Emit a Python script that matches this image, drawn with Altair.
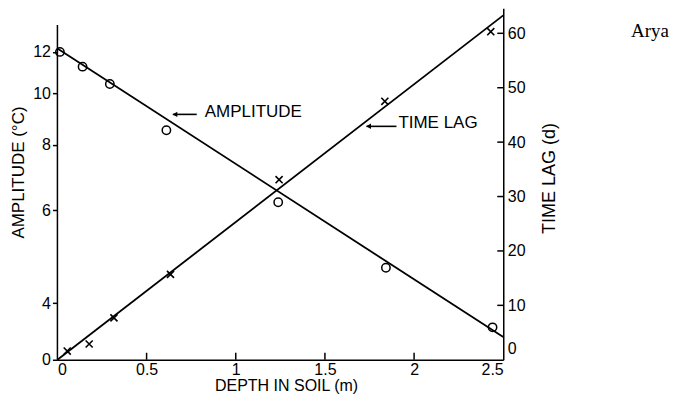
import altair as alt
import pandas as pd

# ---- data ----
amp_depth = [0.014, 0.141, 0.294, 0.611, 1.238, 1.842, 2.44]
amp_vals = [12.0, 11.25, 10.43, 8.52, 6.22, 4.67, 3.60]
lag_depth = [0.055, 0.178, 0.317, 0.634, 1.243, 1.836, 2.43]
lag_vals = [1.6, 2.9, 7.7, 15.7, 33.1, 47.5, 60.3]
fit_depth = [0.0, 2.5]
amp_fit = [12.18, 3.45]
lag_fit = [0.0, 63.3]

depth_ticks = [0, 0.5, 1, 1.5, 2, 2.5]
amp_ticks = [3.124, 4, 6, 8, 10, 12]
lag_ticks = [0, 10, 20, 30, 40, 50, 60]
amp_axis_span = [3.124, 13.5]

ann_text = ["AMPLITUDE", "TIME LAG"]
ann_x = [0.826, 1.912]
ann_y = [45.6, 43.6]
arrow_x = [0.647, 1.733]
arrow_x2 = [0.781, 1.901]
arrow_y = [45.1, 42.9]

credit_text = ["Arya"]
credit_x = [3.323]
credit_y = [60.4]

FONT = "Liberation Sans"
W, H = 446.5, 352

amp_pts = pd.DataFrame({"depth": amp_depth, "amp": amp_vals})
amp_line = pd.DataFrame({"depth": fit_depth, "amp": amp_fit})
lag_pts = pd.DataFrame({"depth": lag_depth, "lag": lag_vals})
lag_line = pd.DataFrame({"depth": fit_depth, "lag": lag_fit})
ann = pd.DataFrame({"depth": ann_x, "lag": ann_y, "label": ann_text})
arrows = pd.DataFrame({"depth": arrow_x, "depth2": arrow_x2, "lag": arrow_y})
arrow_heads = pd.DataFrame({"depth": [a + 0.012 for a in arrow_x], "lag": arrow_y})
credit = pd.DataFrame({"depth": credit_x, "lag": credit_y, "label": credit_text})
xticks_in = pd.DataFrame({"depth": depth_ticks[1:-1]})
yticks_in = pd.DataFrame({"lag": lag_ticks[1:]})
left_spine = pd.DataFrame({"amp": [amp_axis_span[0]], "amp2": [amp_axis_span[1]]})

x_enc = alt.X(
    "depth:Q",
    scale=alt.Scale(domain=[0, 2.5], nice=False, zero=False),
    axis=alt.Axis(values=depth_ticks, format="~g", title="DEPTH IN SOIL (m)",
                  grid=False, ticks=False, labelPadding=2,
                  titleX=229, titleY=26, titleBaseline="middle", titleAlign="center",
                  titleFontSize=16),
)

amp_y = alt.Y(
    "amp:Q",
    scale=alt.Scale(type="log", domain=[3.124, 14.52], nice=False),
    axis=alt.Axis(values=amp_ticks, orient="left", title="AMPLITUDE (°C)", grid=False,
                  domain=False,
                  labelExpr="datum.value < 3.5 ? '0' : format(datum.value, 'd')",
                  tickSize=5, labelPadding=2,
                  titleX=-38.5, titleY=164, titleBaseline="middle", titleAlign="center",
                  titleAngle=270),
)

lag_y = alt.Y(
    "lag:Q",
    scale=alt.Scale(domain=[0, 64.6], nice=False, zero=False),
    axis=alt.Axis(values=lag_ticks, orient="right", title="TIME LAG (d)", grid=False,
                  ticks=False, labelPadding=4,
                  labelOffset={"condition": {"test": "datum.value === 0", "value": -11}, "value": 0},
                  titleX=46, titleY=170, titleBaseline="middle", titleAlign="center",
                  titleAngle=270, titleFontSize=18),
)

amp_group = alt.layer(
    alt.Chart(left_spine).mark_rule(color="black", strokeWidth=1.5).encode(
        x=alt.value(0), y=amp_y, y2="amp2:Q"),
    alt.Chart(amp_line).mark_line(color="black", strokeWidth=1.8).encode(x=x_enc, y=amp_y),
    alt.Chart(amp_pts).mark_point(shape="circle", filled=False, size=70, strokeWidth=1.5,
                                  color="black", opacity=1).encode(x=x_enc, y=amp_y),
)

lag_group = alt.layer(
    alt.Chart(lag_line).mark_line(color="black", strokeWidth=1.8).encode(x=x_enc, y=lag_y),
    alt.Chart(lag_pts).mark_point(shape="M-1,-1L1,1M-1,1L1,-1", filled=False, size=50,
                                  strokeWidth=1.6, color="black", opacity=1).encode(x=x_enc, y=lag_y),
    alt.Chart(arrows).mark_rule(color="black", strokeWidth=1.6).encode(
        x=x_enc, x2="depth2:Q", y=lag_y),
    alt.Chart(arrow_heads).mark_point(shape="triangle-left", filled=True, size=30,
                                      color="black", opacity=1).encode(x=x_enc, y=lag_y),
    alt.Chart(ann).mark_text(align="left", baseline="middle", font=FONT, fontSize=17,
                             color="black").encode(x=x_enc, y=lag_y, text="label:N"),
    alt.Chart(credit).mark_text(align="center", baseline="middle", font="Liberation Serif",
                                fontSize=19, color="black").encode(x=x_enc, y=lag_y, text="label:N"),
    # inward tick marks (bottom and right axes point into the plot in the reference)
    alt.Chart(xticks_in).mark_rule(color="black", strokeWidth=1.5).encode(
        x=x_enc, y=alt.value(H), y2=alt.value(H - 7)),
    alt.Chart(yticks_in).mark_rule(color="black", strokeWidth=1.5).encode(
        y=lag_y, x=alt.value(W), x2=alt.value(W - 6)),
)

chart = (
    alt.layer(amp_group, lag_group)
    .resolve_scale(y="independent")
    .properties(width=W, height=H, autosize="none",
                padding={"left": 49.5, "top": 0, "right": 170, "bottom": 34})
    .configure_view(strokeWidth=0)
    .configure_axis(domainColor="black", domainWidth=1.5, tickColor="black", tickWidth=1.5,
                    labelColor="black", titleColor="black", labelFont=FONT, titleFont=FONT,
                    labelFontSize=16, titleFontSize=17, titleFontWeight="normal")
)

chart.save("out.html", embed_options={"renderer": "svg", "actions": False})
